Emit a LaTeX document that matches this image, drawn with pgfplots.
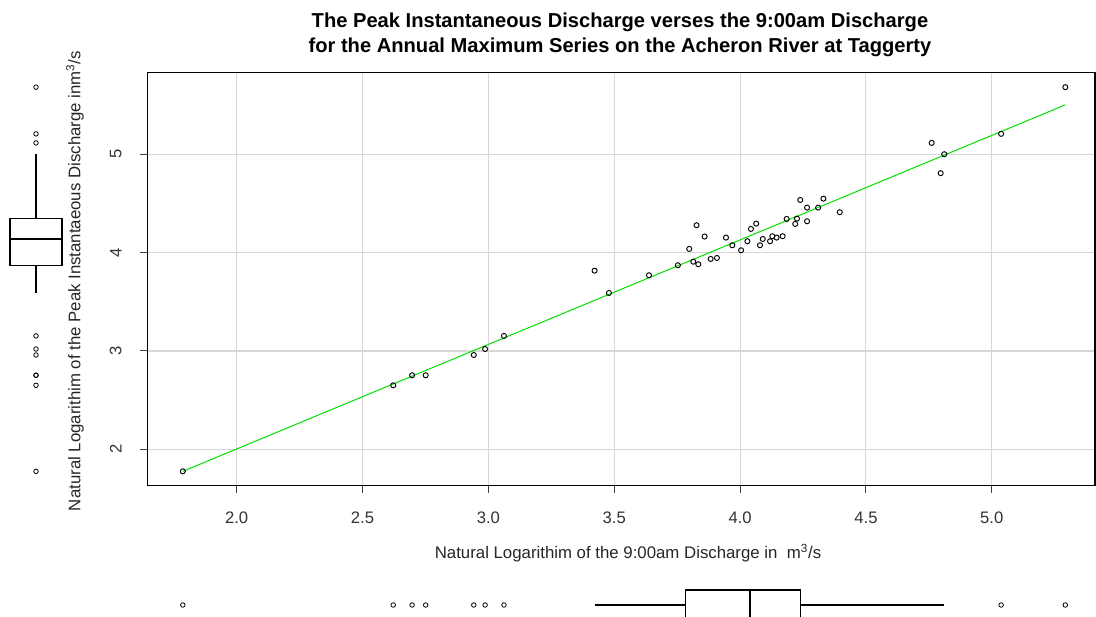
\documentclass[border=0pt]{standalone}
\usepackage{pgfplots}
\pgfplotsset{compat=1.18}
\usepackage{pgfplotstable}
\usepackage{fontspec}
\setmainfont{Liberation Sans}
\definecolor{gridgray}{RGB}{215,215,215}
\definecolor{rgreen}{RGB}{0,225,0}

\pgfplotstableread{
x y
1.786 1.776
2.622 2.651
2.697 2.753
2.751 2.753
2.942 2.959
2.987 3.020
3.062 3.153
3.422 3.817
3.479 3.590
3.638 3.770
3.753 3.872
3.798 4.038
3.827 4.279
3.814 3.908
3.834 3.882
3.859 4.164
3.883 3.936
3.908 3.946
3.944 4.153
3.969 4.075
4.004 4.024
4.029 4.116
4.043 4.241
4.064 4.295
4.079 4.075
4.090 4.139
4.119 4.116
4.128 4.167
4.145 4.153
4.169 4.167
4.185 4.343
4.219 4.292
4.226 4.346
4.239 4.536
4.266 4.458
4.266 4.319
4.310 4.458
4.331 4.549
4.396 4.411
4.761 5.116
4.811 5.001
4.797 4.808
5.037 5.208
5.292 5.683
}\datatable

\begin{document}
\begin{tikzpicture}
\path[use as bounding box] (0,0) rectangle (822pt,462.75pt);

% main scatter axis
\begin{axis}[
  at={(110.475pt,98.475pt)}, anchor=south west,
  scale only axis, width=710.775pt, height=309.75pt,
  xmin=1.645, xmax=5.41, ymin=1.63, ymax=5.83,
  xtick={2,2.5,3,3.5,4,4.5,5},
  ytick={2,3,4,5},
  xtick pos=bottom, ytick pos=left,
  tick align=outside, major tick length=5.25pt,
  tick style={black!75, line width=0.75pt},
  grid=major,
  grid style={gridgray, line width=0.8pt},
  axis line style={black, line width=0.8pt},
  /pgf/number format/assume math mode=true,
  ticklabel style={font=\fontsize{12.5}{14}\selectfont, text=black!80},
  xticklabel style={yshift=-11pt, /pgf/number format/.cd, fixed, fixed zerofill, precision=1},
  yticklabel style={rotate=90, anchor=south, yshift=10.5pt},
  clip=false,
]
\addplot[rgreen, line width=0.75pt] coordinates {(1.786,1.776) (5.292,5.503)};
\addplot[only marks, mark=o, mark size=1.9pt, mark options={black, line width=0.7pt}] table[x=x,y=y] {\datatable};
\end{axis}

% left boxplot (y values)
\begin{axis}[
  at={(0pt,98.475pt)}, anchor=south west,
  scale only axis, width=54.75pt, height=309.75pt,
  xmin=0, xmax=73, ymin=1.63, ymax=5.83,
  hide axis, clip=false,
]
\addplot[black, line width=0.9pt] coordinates {(10,3.868) (62,3.868) (62,4.346) (10,4.346) (10,3.868)};
\addplot[black, line width=1.1pt] coordinates {(10,4.139) (62,4.139)};
\addplot[black, line width=0.9pt] coordinates {(36,3.868) (36,3.590)};
\addplot[black, line width=0.9pt] coordinates {(36,4.346) (36,5.001)};
\addplot[only marks, mark=o, mark size=1.7pt, mark options={black, line width=0.6pt}] coordinates {
(36,5.683) (36,5.208) (36,5.116) (36,3.153) (36,3.020) (36,2.959) (36,2.753) (36,2.753) (36,2.651) (36,1.776)};
\end{axis}

% bottom boxplot (x values)
\begin{axis}[
  at={(110.475pt,0pt)}, anchor=south west,
  scale only axis, width=710.775pt, height=31.5pt,
  xmin=1.645, xmax=5.41, ymin=0, ymax=42,
  hide axis, clip=false,
]
\addplot[black, line width=0.9pt] coordinates {(3.784,0) (3.784,27) (4.241,27) (4.241,0)};
\addplot[black, line width=1.1pt] coordinates {(4.039,0) (4.039,27)};
\addplot[black, line width=0.9pt] coordinates {(3.422,12) (3.784,12)};
\addplot[black, line width=0.9pt] coordinates {(4.241,12) (4.811,12)};
\addplot[only marks, mark=o, mark size=1.7pt, mark options={black, line width=0.6pt}] coordinates {
(1.786,12) (2.622,12) (2.697,12) (2.751,12) (2.942,12) (2.987,12) (3.062,12) (5.037,12) (5.292,12)};
\end{axis}

% titles and labels
\node[align=center, font=\fontsize{15.1}{18.75}\selectfont\bfseries] at (465pt,436.5pt)
  {The Peak Instantaneous Discharge verses the 9:00am Discharge\\for the Annual Maximum Series on the Acheron River at Taggerty};
\node[font=\fontsize{12.6}{14}\selectfont, text=black!85] at (471pt,48pt)
  {Natural Logarithim of the 9:00am Discharge in\ \ m\textsuperscript{3}/s};
\node[rotate=90, font=\fontsize{12.6}{14}\selectfont, text=black!85] at (56.25pt,252pt)
  {Natural Logarithim of the Peak Instantaeous Discharge inm\textsuperscript{3}/s};
\end{tikzpicture}
\end{document}
